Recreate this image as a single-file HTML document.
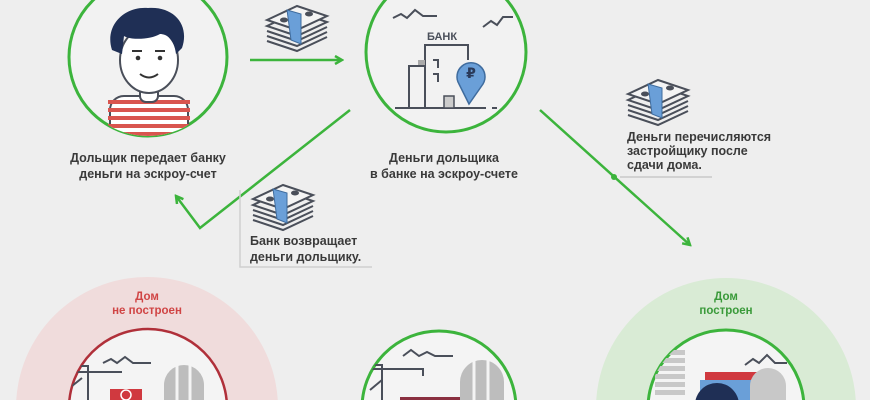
<!DOCTYPE html>
<html><head><meta charset="utf-8"><style>
html,body{margin:0;padding:0;background:#eeeeee;width:870px;height:400px;overflow:hidden;}
svg{display:block;}
text{font-family:"Liberation Sans","DejaVu Sans",sans-serif;font-weight:bold;}
</style></head><body>
<svg width="870" height="400" viewBox="0 0 870 400" xmlns="http://www.w3.org/2000/svg">
<defs>
<g id="money">
 <path d="M0 22 L30 8 L60 18 L30 32 Z" fill="#eee" stroke="#4a4f5a" stroke-width="2"/>
 <path d="M0 27 L30 37 L60 23 M0 32 L30 42 L60 28 M0 37 L30 47 L60 33" fill="none" stroke="#4a4f5a" stroke-width="2"/>
 <path d="M0 16 L30 2 L60 12 L30 26 Z" fill="#f4f4f4" stroke="#4a4f5a" stroke-width="2"/>
 <path d="M20 6 L34 10 L34 40 L24 36 Z" fill="#6a9fd8" stroke="#3f6c9e" stroke-width="1"/>
 <ellipse cx="17" cy="16" rx="4" ry="2.5" fill="#4a4f5a"/>
 <ellipse cx="42" cy="10" rx="4" ry="2.5" fill="#4a4f5a"/>
</g>
<clipPath id="c1"><circle cx="148" cy="57" r="79"/></clipPath>
<clipPath id="c4"><circle cx="148" cy="408" r="79"/></clipPath>
<clipPath id="c5"><circle cx="439" cy="408" r="77"/></clipPath>
<clipPath id="c6"><circle cx="726" cy="408" r="78"/></clipPath>
<marker id="ah" markerWidth="10" markerHeight="10" refX="8" refY="5" orient="auto" markerUnits="userSpaceOnUse">
 <path d="M1 1 L8 5 L1 9" fill="none" stroke="#3cb43c" stroke-width="2.5"/>
</marker>
</defs>

<circle cx="148" cy="57" r="79" fill="#f2f2f2" stroke="#3cb43c" stroke-width="3"/>
<g clip-path="url(#c1)">
 <rect x="110" y="96" width="78" height="45" rx="14" fill="#fff" stroke="#4a4f5a" stroke-width="2"/>
 <g fill="#d9554f"><rect x="108" y="100" width="82" height="4"/><rect x="108" y="108" width="82" height="4"/><rect x="108" y="116" width="82" height="4"/><rect x="108" y="124" width="82" height="4"/><rect x="108" y="132" width="82" height="4"/></g>
 <rect x="140" y="82" width="18" height="20" rx="6" fill="#fff" stroke="#4a4f5a" stroke-width="2"/>
 <ellipse cx="149" cy="60" rx="29" ry="33" fill="#fff" stroke="#4a4f5a" stroke-width="2"/>
 <path d="M112 50 C104 25 125 6 148 8 C174 6 190 25 182 48 L176 54 C174 38 166 34 160 34 C150 40 130 40 124 36 L122 54 Z" fill="#1f2f55"/>
 <circle cx="138" cy="58" r="2.3" fill="#333"/><circle cx="160" cy="58" r="2.3" fill="#333"/>
 <path d="M132 51 h10 M155 51 h10" stroke="#333" stroke-width="2"/>
 <path d="M140 74 Q149 81 158 74" fill="none" stroke="#333" stroke-width="2"/>
</g>
<text x="148" y="162" font-size="12.5" fill="#3a3a3a" text-anchor="middle">Дольщик передает банку</text>
<text x="148" y="178" font-size="12.5" fill="#3a3a3a" text-anchor="middle">деньги на эскроу-счет</text>

<use href="#money" x="267" y="4"/>
<line x1="250" y1="60" x2="342" y2="60" stroke="#3cb43c" stroke-width="2.5" marker-end="url(#ah)"/>

<circle cx="446" cy="52" r="80" fill="#f2f2f2" stroke="#3cb43c" stroke-width="3"/>
<g stroke="#4a4f5a" stroke-width="2" fill="none">
 <path d="M393 18 l8 -4 l6 4 l8 -8 l8 6 l14 0"/>
 <path d="M483 27 l8 -6 l6 4 l6 -8 l10 0"/>
 <path d="M395 108 H486 M492 108 H497"/>
 <path d="M425 108 V45 H468 V60"/>
 <path d="M409 108 V66 H425"/>
 <path d="M433 60 h5 v8 M433 74 h5 v8"/>
</g>
<rect x="418" y="60" width="7" height="5" fill="#aaa"/>
<rect x="444" y="96" width="10" height="12" fill="#ccc" stroke="#4a4f5a" stroke-width="1.5"/>
<text x="427" y="40" font-size="11" fill="#4a4f5a">БАНК</text>
<path d="M469 104 L459 84 A14 14 0 1 1 483 84 Z" fill="#6a9fd8" stroke="#3f6c9e" stroke-width="1.5"/>
<text x="471" y="78" font-size="14" fill="#2a3a5a" text-anchor="middle">₽</text>
<text x="444" y="162" font-size="12.5" fill="#3a3a3a" text-anchor="middle">Деньги дольщика</text>
<text x="444" y="178" font-size="12.5" fill="#3a3a3a" text-anchor="middle">в банке на эскроу-счете</text>

<polyline points="350,110 200,228 176,196" fill="none" stroke="#3cb43c" stroke-width="2.5" marker-end="url(#ah)"/>
<use href="#money" x="253" y="183"/>
<path d="M240 190 V267 H372" fill="none" stroke="#cfcfcf" stroke-width="1.5"/>
<text x="250" y="245" font-size="12.5" fill="#3a3a3a">Банк возвращает</text>
<text x="250" y="261" font-size="12.5" fill="#3a3a3a">деньги дольщику.</text>

<line x1="540" y1="110" x2="690" y2="245" stroke="#3cb43c" stroke-width="2.5" marker-end="url(#ah)"/>
<circle cx="614" cy="177" r="3" fill="#3cb43c"/>
<use href="#money" x="628" y="78"/>
<text x="627" y="141" font-size="12.5" fill="#3a3a3a">Деньги перечисляются</text>
<text x="627" y="155" font-size="12.5" fill="#3a3a3a">застройщику после</text>
<text x="627" y="169" font-size="12.5" fill="#3a3a3a">сдачи дома.</text>
<line x1="620" y1="177" x2="712" y2="177" stroke="#c8c8c8" stroke-width="1.5"/>

<circle cx="147" cy="408" r="131" fill="#f0dcdc"/>
<text x="147" y="300" font-size="11.5" fill="#d04545" text-anchor="middle">Дом</text>
<text x="147" y="314" font-size="11.5" fill="#d04545" text-anchor="middle">не построен</text>
<circle cx="148" cy="408" r="79" fill="#f4f4f4" stroke="#b0303a" stroke-width="2.5"/>
<g clip-path="url(#c4)">
 <path d="M103 363 l8 -4 l6 4 l8 -6 l8 6 l18 0" fill="none" stroke="#4a4f5a" stroke-width="2"/>
 <path d="M72 366 H88 V400 M72 372 H122" fill="none" stroke="#4a4f5a" stroke-width="2"/>
 <path d="M72 386 l10 -8" stroke="#4a4f5a" stroke-width="2"/>
 <rect x="110" y="389" width="32" height="20" fill="#d0393f"/>
 <circle cx="126" cy="395" r="5" fill="none" stroke="#fff" stroke-width="1.5"/>
 <path d="M164 400 V385 A20 20 0 0 1 204 385 V400 Z" fill="#bdbdbd"/>
 <path d="M177 365 V400 M190 365 V400" stroke="#f4f4f4" stroke-width="3"/>
</g>

<circle cx="439" cy="408" r="77" fill="#f4f4f4" stroke="#3cb43c" stroke-width="3"/>
<g clip-path="url(#c5)">
 <path d="M403 356 l8 -6 l8 6 l8 -4 l8 4 l18 0" fill="none" stroke="#4a4f5a" stroke-width="2"/>
 <path d="M370 365 H382 V400 M370 369 H423 V376" fill="none" stroke="#4a4f5a" stroke-width="2"/>
 <path d="M370 390 l12 -10" stroke="#4a4f5a" stroke-width="2"/>
 <rect x="400" y="397" width="60" height="5" fill="#8a3040"/>
 <path d="M460 400 V382 A22 22 0 0 1 504 382 V400 Z" fill="#bdbdbd"/>
 <path d="M474 360 V400 M488 360 V400" stroke="#f4f4f4" stroke-width="3"/>
</g>

<circle cx="726" cy="408" r="130" fill="#d9ebd5"/>
<text x="726" y="300" font-size="11.5" fill="#3a9a3a" text-anchor="middle">Дом</text>
<text x="726" y="314" font-size="11.5" fill="#3a9a3a" text-anchor="middle">построен</text>
<circle cx="726" cy="408" r="78" fill="#f4f4f4" stroke="#3cb43c" stroke-width="3"/>
<g clip-path="url(#c6)">
 <g fill="#c8c8c8"><rect x="655" y="350" width="30" height="5"/><rect x="655" y="358" width="30" height="5"/><rect x="655" y="366" width="30" height="5"/><rect x="655" y="374" width="30" height="5"/><rect x="655" y="382" width="30" height="5"/><rect x="655" y="390" width="30" height="5"/></g>
 <path d="M745 365 l8 -6 l6 4 l8 -8 l8 8 l12 0" fill="none" stroke="#4a4f5a" stroke-width="2"/>
 <rect x="705" y="372" width="52" height="8" fill="#d0393f"/>
 <rect x="700" y="380" width="60" height="20" fill="#6a9fd8"/>
 <path d="M750 400 V386 A18 18 0 0 1 786 386 V400 Z" fill="#c8c8c8"/>
 <circle cx="717" cy="405" r="22" fill="#1f2f55"/>
</g>
</svg>
</body></html>
